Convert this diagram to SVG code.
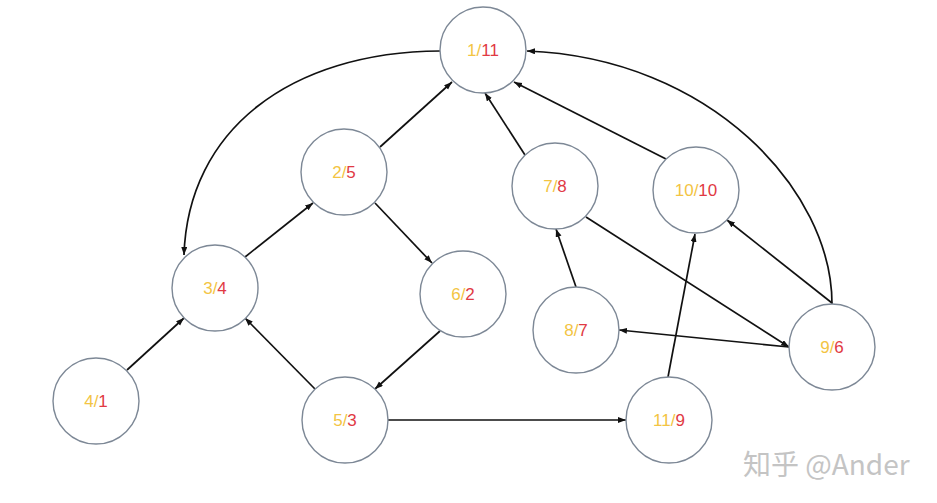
<svg xmlns="http://www.w3.org/2000/svg" width="937" height="503" viewBox="0 0 937 503">
<style>
.node circle{fill:#fff;stroke:#7d8896;stroke-width:1.4}
.node text{font-family:"Liberation Sans",Arial,sans-serif;font-size:17px;text-anchor:middle}
.y{fill:#f3c443}
.r{fill:#e13a44}
.edges path,.edges line{stroke:#111;stroke-width:1.7;fill:none;marker-end:url(#arr)}
.wm{font-family:"Noto Sans CJK SC","Liberation Sans",sans-serif;font-size:28px;fill:#c4c4c4}
</style>
<defs>
<marker id="arr" markerUnits="userSpaceOnUse" markerWidth="9" markerHeight="7" refX="8" refY="3" orient="auto">
<path d="M0,0 L8,3 L0,6 z" fill="#111"/>
</marker>
</defs>
<rect width="937" height="503" fill="#fff"/>
<g class="edges">
<line x1="127" y1="370" x2="184" y2="318"/>
<line x1="315" y1="389" x2="245" y2="318"/>
<line x1="245" y1="257" x2="313" y2="203"/>
<line x1="380" y1="147" x2="452" y2="82"/>
<line x1="375" y1="203" x2="432" y2="263"/>
<line x1="440" y1="331" x2="375" y2="389"/>
<line x1="388" y1="420" x2="626" y2="420"/>
<line x1="668" y1="377" x2="695" y2="234"/>
<line x1="576" y1="287" x2="556" y2="229"/>
<line x1="525" y1="155" x2="485" y2="93"/>
<line x1="666" y1="159" x2="514" y2="82"/>
<line x1="832" y1="303" x2="727" y2="220"/>
<line x1="586" y1="217" x2="789" y2="347"/>
<line x1="789" y1="347" x2="619" y2="330"/>
<path d="M440 51 C290 52 188 130 184 255"/>
<path d="M832 304 C832 190 710 58 527 51"/>
</g>
<g id="n1" class="node"><circle cx="483" cy="50" r="43"/><text x="483" y="56"><tspan class="y">1/</tspan><tspan class="r">11</tspan></text></g>
<g id="n2" class="node"><circle cx="344" cy="172" r="43"/><text x="344" y="178"><tspan class="y">2/</tspan><tspan class="r">5</tspan></text></g>
<g id="n3" class="node"><circle cx="215" cy="288" r="43"/><text x="215" y="294"><tspan class="y">3/</tspan><tspan class="r">4</tspan></text></g>
<g id="n4" class="node"><circle cx="96" cy="401" r="43"/><text x="96" y="407"><tspan class="y">4/</tspan><tspan class="r">1</tspan></text></g>
<g id="n5" class="node"><circle cx="345" cy="420" r="43"/><text x="345" y="426"><tspan class="y">5/</tspan><tspan class="r">3</tspan></text></g>
<g id="n6" class="node"><circle cx="463" cy="294" r="43"/><text x="463" y="300"><tspan class="y">6/</tspan><tspan class="r">2</tspan></text></g>
<g id="n7" class="node"><circle cx="555" cy="186" r="43"/><text x="555" y="192"><tspan class="y">7/</tspan><tspan class="r">8</tspan></text></g>
<g id="n8" class="node"><circle cx="576" cy="330" r="43"/><text x="576" y="336"><tspan class="y">8/</tspan><tspan class="r">7</tspan></text></g>
<g id="n9" class="node"><circle cx="832" cy="347" r="43"/><text x="832" y="353"><tspan class="y">9/</tspan><tspan class="r">6</tspan></text></g>
<g id="n10" class="node"><circle cx="696" cy="190" r="43"/><text x="696" y="196"><tspan class="y">10/</tspan><tspan class="r">10</tspan></text></g>
<g id="n11" class="node"><circle cx="669" cy="420" r="43"/><text x="669" y="426"><tspan class="y">11/</tspan><tspan class="r">9</tspan></text></g>
<text class="wm" x="743" y="475">知乎 @Ander</text>
</svg>
